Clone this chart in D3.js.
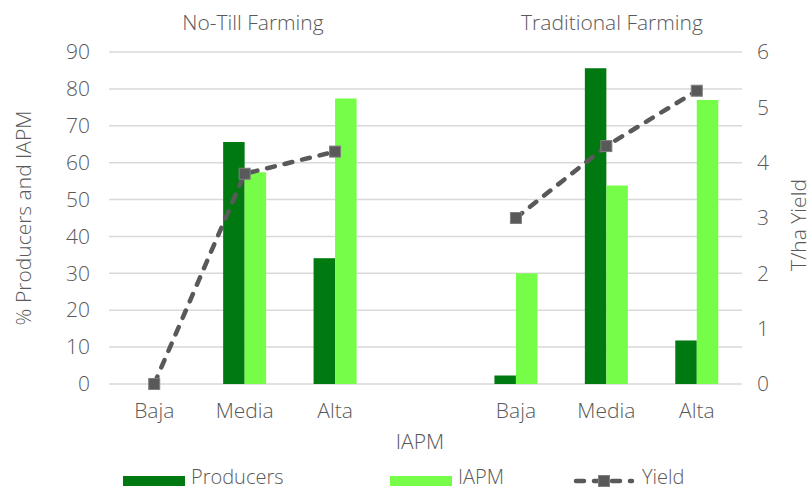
<!DOCTYPE html>
<html>
<head>
<meta charset="utf-8">
<script src="https://cdn.jsdelivr.net/npm/d3@7"></script>
<style>
  body { margin: 0; background: #fff; }
  text { font-family: "Open Sans", Lato, sans-serif; font-weight: 300; fill: #595959; }
</style>
</head>
<body>
<div id="chart"></div>
<script>
// categories (an empty slot separates the two farming systems)
const slots = ["nt-baja", "nt-media", "nt-alta", "gap", "tr-baja", "tr-media", "tr-alta"];
const slotLabels = ["Baja", "Media", "Alta", "", "Baja", "Media", "Alta"];
const groupTitles = ["No-Till Farming", "Traditional Farming"];

// series values
const producers = [0, 65.6, 34.1, null, 2.3, 85.6, 11.8];
const iapm = [0, 57.4, 77.4, null, 30.0, 53.8, 77.0];
const yieldT = [0, 3.8, 4.2, null, 3.0, 4.3, 5.3];

// tick labels
const leftTicks = [0, 10, 20, 30, 40, 50, 60, 70, 80, 90];
const rightTicks = [0, 1, 2, 3, 4, 5, 6];

const width = 812, height = 490;
const margin = { top: 52, right: 70, bottom: 106, left: 109 };

const darkGreen = "#007a10";
const lightGreen = "#75fd48";
const grey = "#595959";
const fontSize = "21px";

const svg = d3.select("#chart").append("svg")
  .attr("width", width)
  .attr("height", height);

const x = d3.scaleBand()
  .domain(slots)
  .range([margin.left, width - margin.right]);

const yLeft = d3.scaleLinear()
  .domain([0, 90])
  .range([height - margin.bottom, margin.top]);

const yRight = d3.scaleLinear()
  .domain([0, 6])
  .range([height - margin.bottom, margin.top]);

const barW = 21.5;

// gridlines
svg.append("g")
  .selectAll("line")
  .data(leftTicks)
  .join("line")
  .attr("x1", margin.left)
  .attr("x2", width - margin.right)
  .attr("y1", d => yLeft(d))
  .attr("y2", d => yLeft(d))
  .attr("stroke", "#d9d9d9")
  .attr("stroke-width", 1.5);

// left axis
const leftAxis = svg.append("g")
  .attr("transform", `translate(${margin.left},0)`)
  .call(d3.axisLeft(yLeft).tickValues(leftTicks).tickSize(0).tickPadding(19));
leftAxis.select(".domain").remove();
leftAxis.selectAll("text").style("font-size", fontSize).attr("fill", grey);

// right axis
const rightAxis = svg.append("g")
  .attr("transform", `translate(${width - margin.right},0)`)
  .call(d3.axisRight(yRight).tickValues(rightTicks).tickFormat(d3.format("d")).tickSize(0).tickPadding(15));
rightAxis.select(".domain").remove();
rightAxis.selectAll("text").style("font-size", fontSize).attr("fill", grey);

// category axis
const bottomAxis = svg.append("g")
  .attr("transform", `translate(0,${height - margin.bottom})`)
  .call(d3.axisBottom(x).tickSize(0).tickPadding(19).tickFormat((d, i) => slotLabels[i]));
bottomAxis.select(".domain").remove();
bottomAxis.selectAll("text").style("font-size", fontSize).attr("fill", grey);

// bars
const rows = slots.map((s, i) => ({ slot: s, producers: producers[i], iapm: iapm[i], yield: yieldT[i] }));

svg.append("g")
  .selectAll("rect")
  .data(rows.filter(d => d.producers))
  .join("rect")
  .attr("x", d => x(d.slot) + x.bandwidth() / 2 - barW)
  .attr("y", d => yLeft(d.producers))
  .attr("width", barW)
  .attr("height", d => yLeft(0) - yLeft(d.producers))
  .attr("fill", darkGreen);

svg.append("g")
  .selectAll("rect")
  .data(rows.filter(d => d.iapm))
  .join("rect")
  .attr("x", d => x(d.slot) + x.bandwidth() / 2)
  .attr("y", d => yLeft(d.iapm))
  .attr("width", barW)
  .attr("height", d => yLeft(0) - yLeft(d.iapm))
  .attr("fill", lightGreen);

// yield line, broken at the empty slot
const line = d3.line()
  .defined(d => d.yield !== null)
  .x(d => x(d.slot) + x.bandwidth() / 2)
  .y(d => yRight(d.yield));

svg.append("path")
  .datum(rows)
  .attr("d", line)
  .attr("fill", "none")
  .attr("stroke", grey)
  .attr("stroke-width", 4.5)
  .attr("stroke-dasharray", "8,10")
  .attr("stroke-linecap", "round");

svg.append("g")
  .selectAll("rect")
  .data(rows.filter(d => d.yield !== null))
  .join("rect")
  .attr("x", d => x(d.slot) + x.bandwidth() / 2 - 5.5)
  .attr("y", d => yRight(d.yield) - 5.5)
  .attr("width", 11)
  .attr("height", 11)
  .attr("fill", grey)
  .attr("stroke", "#7f7f7f")
  .attr("stroke-width", 1);

// group titles
svg.append("g")
  .selectAll("text")
  .data(groupTitles)
  .join("text")
  .attr("x", (d, i) => i === 0 ? 253 : 612)
  .attr("y", 30)
  .attr("text-anchor", "middle")
  .style("font-size", fontSize)
  .text(d => d);

// axis titles
svg.append("text")
  .attr("transform", `translate(31,${(margin.top + height - margin.bottom) / 2}) rotate(-90)`)
  .attr("text-anchor", "middle")
  .style("font-size", fontSize)
  .text("% Producers and IAPM");

svg.append("text")
  .attr("transform", `translate(806,225) rotate(-90)`)
  .attr("text-anchor", "middle")
  .style("font-size", fontSize)
  .text("T/ha Yield");

svg.append("text")
  .attr("x", 420)
  .attr("y", 449)
  .attr("text-anchor", "middle")
  .style("font-size", fontSize)
  .text("IAPM");

// legend
const legend = svg.append("g");
const legendItems = [
  { name: "Producers", x: 123, kind: "bar", color: darkGreen },
  { name: "IAPM", x: 390, kind: "bar", color: lightGreen },
  { name: "Yield", x: 574, kind: "line", color: grey }
];
legendItems.forEach(item => {
  if (item.kind === "bar") {
    legend.append("rect")
      .attr("x", item.x).attr("y", 476)
      .attr("width", 62).attr("height", 10)
      .attr("fill", item.color);
  } else {
    legend.append("line")
      .attr("x1", item.x + 2).attr("x2", item.x + 58)
      .attr("y1", 481).attr("y2", 481)
      .attr("stroke", item.color).attr("stroke-width", 4.5)
      .attr("stroke-dasharray", "8,10").attr("stroke-linecap", "round");
    legend.append("rect")
      .attr("x", item.x + 24.5).attr("y", 475.5)
      .attr("width", 11).attr("height", 11)
      .attr("fill", grey).attr("stroke", "#7f7f7f");
  }
  legend.append("text")
    .attr("x", item.x + 68)
    .attr("y", 484)
    .style("font-size", "20px")
    .text(item.name);
});
</script>
</body>
</html>
